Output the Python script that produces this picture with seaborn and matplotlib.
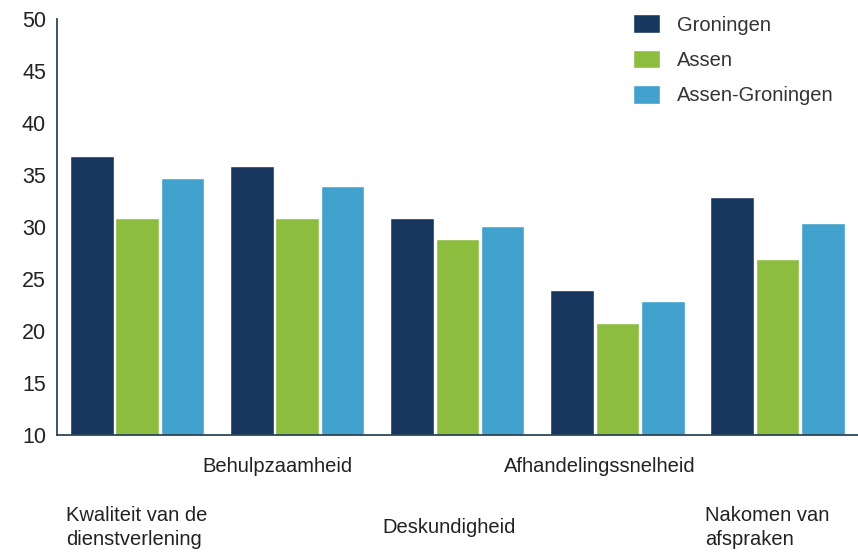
import matplotlib.pyplot as plt
import matplotlib.transforms as mtransforms
import pandas as pd
import seaborn as sns

categories = ["Kwaliteit van de\ndienstverlening", "Behulpzaamheid", "Deskundigheid",
              "Afhandelingssnelheid", "Nakomen van\nafspraken"]
groningen = [36.8, 35.9, 30.9, 23.9, 32.9]
assen = [30.9, 30.9, 28.8, 20.8, 26.9]
assen_groningen = [34.7, 33.9, 30.1, 22.9, 30.4]
series = ["Groningen", "Assen", "Assen-Groningen"]
colors = ["#18375f", "#8cbd3e", "#43a1cd"]

df = pd.DataFrame({"categorie": categories * 3,
                   "score": groningen + assen + assen_groningen,
                   "plaats": [s for s in series for _ in categories]})

sns.set_style("white")
plt.rcParams["font.family"] = ["Liberation Sans", "DejaVu Sans"]

fig = plt.figure(figsize=(8.58, 5.53), dpi=100)
ax = fig.add_axes([0.0665, 0.2135, 0.933, 0.752])
sns.barplot(data=df, x="categorie", y="score", hue="plaats", palette=colors,
            width=0.85, gap=0.04, saturation=1, ax=ax)

ax.set_ylim(10, 50)
ax.set_xlim(-0.5, 4.5)
ax.set_yticks(range(10, 51, 5))
ax.set_xlabel("")
ax.set_ylabel("")
sns.despine(ax=ax, top=True, right=True)
for s in ["left", "bottom"]:
    ax.spines[s].set_color("#2e4756")
    ax.spines[s].set_linewidth(1.3)

ax.tick_params(axis="y", which="major", direction="out", length=5, width=1,
               color="#2e4756", labelsize=15.5, labelcolor="#222222", pad=3)
ax.set_xticks([0.5, 1.5, 2.5, 3.5], minor=True)
ax.tick_params(axis="x", which="minor", direction="out", length=4, width=1, color="#2e4756")
ax.tick_params(axis="x", which="major", length=0, labelsize=14.5, labelcolor="#222222")

# staggered labels, nudged a little left like the original
pads = [51, 16, 60, 16, 51]
shifts = [0, -20, -8, -18, -10]
for i, tick in enumerate(ax.xaxis.get_major_ticks()):
    tick.set_pad(pads[i])
    tick.label1.set_multialignment("left")
    tick.label1.set_linespacing(1.35)
    off = mtransforms.ScaledTranslation(shifts[i] / 100, 0, fig.dpi_scale_trans)
    tick.label1.set_transform(tick.label1.get_transform() + off)

ax.legend(loc="upper right", bbox_to_anchor=(0.993, 1.055), frameon=False, fontsize=14.5,
          handlelength=1.35, handleheight=1.05, labelspacing=0.75, handletextpad=0.85,
          labelcolor="#333333")

fig.savefig("out.png", dpi=100)
